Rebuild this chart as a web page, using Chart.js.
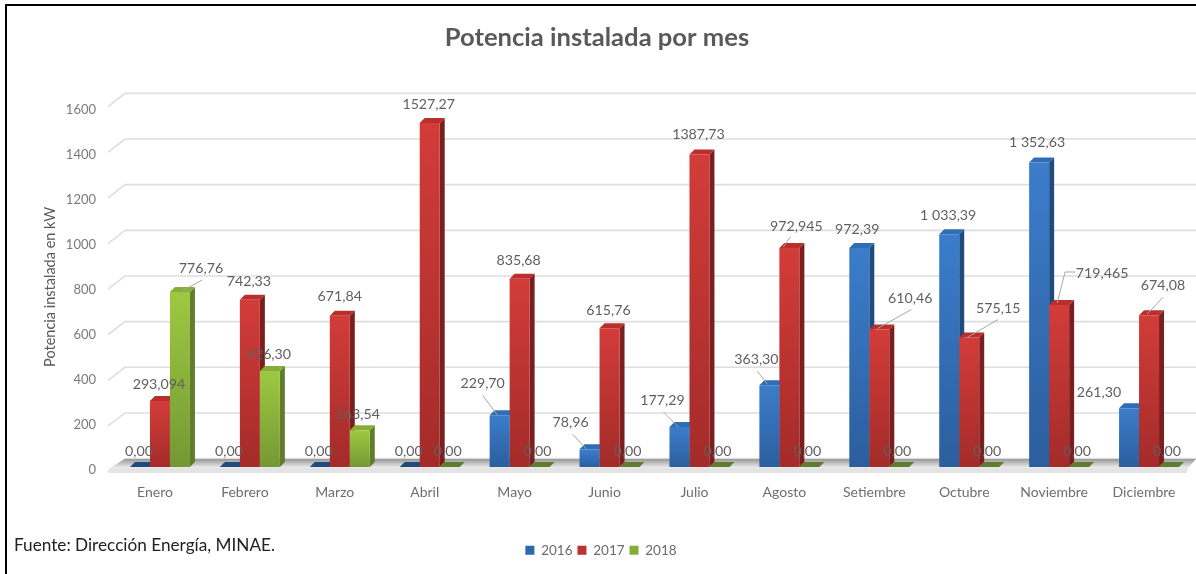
<!DOCTYPE html>
<html>
<head>
<meta charset="utf-8">
<title>Potencia instalada por mes</title>
<script src="https://cdn.jsdelivr.net/npm/chart.js@4/dist/chart.umd.min.js"></script>
<style>
  html, body { margin: 0; padding: 0; background: #fff; overflow: hidden; }
  #wrap { position: relative; width: 1196px; height: 574px; }
  #powerChart { display: block; filter: blur(0.4px); }
  #frame { position: absolute; left: 5px; top: 4px; right: 0; bottom: 0; border-left: 2px solid #000; border-top: 2px solid #000; pointer-events: none; }
  #source { position: absolute; left: 14px; top: 534px; font: 17.2px Lato, sans-serif; color: #222; }
</style>
</head>
<body>
<div id="wrap">
  <canvas id="powerChart" width="1196" height="574"></canvas>
  <div id="frame"></div>
  <div id="source">Fuente: Dirección Energía, MINAE.</div>
</div>
<script>
const months = ["Enero", "Febrero", "Marzo", "Abril", "Mayo", "Junio", "Julio", "Agosto", "Setiembre", "Octubre", "Noviembre", "Diciembre"];
const yTicks = [0, 200, 400, 600, 800, 1000, 1200, 1400, 1600];

const values2016 = [0, 0, 0, 0, 229.70, 78.96, 177.29, 363.30, 972.39, 1033.39, 1352.63, 261.30];
const values2017 = [293.094, 742.33, 671.84, 1527.27, 835.68, 615.76, 1387.73, 972.945, 610.46, 575.15, 719.465, 674.08];
const values2018 = [776.76, 426.30, 163.54, 0, 0, 0, 0, 0, 0, 0, 0, 0];

const labels2016 = ["0,00", "0,00", "0,00", "0,00", "229,70", "78,96", "177,29", "363,30", "972,39", "1 033,39", "1 352,63", "261,30"];
const labels2017 = ["293,094", "742,33", "671,84", "1527,27", "835,68", "615,76", "1387,73", "972,945", "610,46", "575,15", "719,465", "674,08"];
const labels2018 = ["776,76", "426,30", "163,54", "0,00", "0,00", "0,00", "0,00", "0,00", "0,00", "0,00", "0,00", "0,00"];

// where each value label sits, relative to the top centre of its bar
const offsets2016 = [[-1, -16], [-1, -16], [-1, -16], [-1, -16], [-17, -32], [-19, -27], [-17, -27], [-13, -26], [-2, -19], [-1, -19], [-2, -20], [-30, -16]];
const offsets2017 = [[-1, -17], [-1, -18], [0, -19], [-1, -19], [-1, -18], [-1, -18], [-1, -20], [7, -21], [31, -31], [29, -29], [43, -32], [14, -30]];
const offsets2018 = [[21, -24], [-1, -17], [-2, -16], [-2, -16], [-2, -16], [-2, -16], [-2, -16], [-2, -16], [-2, -16], [-2, -16], [-2, -16], [-2, -16]];

// leader lines: dataset, month, then points relative to the top centre of the bar
const leaders = [
  [2, 0, [[22, -12], [2, -1]]],
  [0, 4, [[-17, -20], [-2, 0]]],
  [0, 5, [[-17, -15], [-3, 0]]],
  [0, 6, [[-16, -15], [-1, 0]]],
  [0, 7, [[-12, -14], [-2, -1]]],
  [1, 7, [[1, -11], [-6, -1]]],
  [1, 8, [[32, -20], [-2, -1]]],
  [1, 9, [[29, -18], [-2, 0]]],
  [1, 10, [[16, -33], [6, -33], [-2, -2]]],
  [1, 11, [[14, -18], [-2, -1]]]
];

const allLabels = [labels2016, labels2017, labels2018];
const allOffsets = [offsets2016, offsets2017, offsets2018];

const frontTop = ["#3b7dcb", "#d23c39", "#9dc941"];
const frontBottom = ["#2b5e9d", "#a32b29", "#739833"];
const legendColors = ["#2f69ad", "#bb3330", "#86ac3a"];
const sideColors = ["#1f4b7e", "#7a1f1d", "#5f7d2c"];
const topColors = ["#2f6db5", "#b92f2c", "#87ad38"];
const depth = 5;

function barFill(i) {
  return (context) => {
    const chart = context.chart;
    if (context.type !== "data" || !chart.chartArea) return frontTop[i];
    const y = chart.scales.y.getPixelForValue(context.parsed.y);
    const g = chart.ctx.createLinearGradient(0, y, 0, chart.chartArea.bottom + 1);
    g.addColorStop(0, frontTop[i]);
    g.addColorStop(1, frontBottom[i]);
    return g;
  };
}

// back wall gridlines, floor and the side/top faces of the bars.
// Chart.js paints the front faces afterwards, last dataset first.
const wallPlugin = {
  id: "wall",
  afterLayout(chart) {
    // legend sits a little right of the centre in the original
    chart.legend.left += 4;
    chart.legend.right += 4;
  },
  beforeDatasetsDraw(chart) {
    const { ctx, scales, chartArea } = chart;
    const y = scales.y;
    const backX = 125, frontX = 108;
    ctx.save();
    ctx.strokeStyle = "#dedede";
    ctx.lineWidth = 1.6;
    y.ticks.forEach((t) => {
      const v = t.value;
      const back = y.getPixelForValue(v) - 8.4 - v * 0.0031;
      const front = y.getPixelForValue(v) + 4.6 - v * 0.0029;
      ctx.beginPath();
      ctx.moveTo(frontX, front);
      ctx.lineTo(backX, back);
      ctx.lineTo(1196, back);
      ctx.stroke();
    });
    // floor
    const base = chartArea.bottom;
    const g = ctx.createLinearGradient(0, base - 8, 0, base + 1);
    g.addColorStop(0, "#989898");
    g.addColorStop(1, "#efefef");
    ctx.fillStyle = g;
    ctx.beginPath();
    ctx.moveTo(backX, base - 8);
    ctx.lineTo(1196, base - 8);
    ctx.lineTo(1188, base + 1);
    ctx.lineTo(110, base + 1);
    ctx.closePath();
    ctx.fill();
    ctx.fillStyle = "#e4e4e4";
    ctx.beginPath();
    ctx.moveTo(110, base + 1);
    ctx.lineTo(1188, base + 1);
    ctx.lineTo(1187, base + 6);
    ctx.lineTo(108, base + 6);
    ctx.closePath();
    ctx.fill();

    for (let i = 0; i < 3; i++) {
      chart.getDatasetMeta(i).data.forEach((bar) => {
        const x1 = bar.x + bar.width / 2;
        const x0 = bar.x - bar.width / 2;
        ctx.fillStyle = sideColors[i];
        ctx.beginPath();
        ctx.moveTo(x1, bar.y);
        ctx.lineTo(x1 + depth, bar.y - depth);
        ctx.lineTo(x1 + depth, bar.base - depth);
        ctx.lineTo(x1, bar.base);
        ctx.closePath();
        ctx.fill();
        // zero bars only show a dark flat top
        ctx.fillStyle = bar.y === bar.base ? sideColors[i] : topColors[i];
        ctx.beginPath();
        ctx.moveTo(x0, bar.y);
        ctx.lineTo(x0 + depth, bar.y - depth);
        ctx.lineTo(x1 + depth, bar.y - depth);
        ctx.lineTo(x1, bar.y);
        ctx.closePath();
        ctx.fill();
      });
    }
    ctx.restore();
  },
  afterDatasetsDraw(chart) {
    const { ctx } = chart;
    ctx.save();
    ctx.strokeStyle = "#a6a6a6";
    ctx.lineWidth = 1;
    leaders.forEach(([d, m, pts]) => {
      const bar = chart.getDatasetMeta(d).data[m];
      ctx.beginPath();
      pts.forEach((p, n) => {
        if (n === 0) ctx.moveTo(bar.x + p[0], bar.y + p[1]);
        else ctx.lineTo(bar.x + p[0], bar.y + p[1]);
      });
      ctx.stroke();
    });
    ctx.font = "14.2px Lato, sans-serif";
    ctx.fillStyle = "#5f5f5f";
    ctx.textAlign = "center";
    ctx.textBaseline = "middle";
    allLabels.forEach((labels, d) => {
      const bars = chart.getDatasetMeta(d).data;
      labels.forEach((text, m) => {
        const off = allOffsets[d][m];
        ctx.fillText(text, bars[m].x + off[0], bars[m].y + off[1]);
      });
    });
    ctx.restore();
  }
};

const ctx = document.getElementById("powerChart").getContext("2d");

new Chart(ctx, {
  type: "bar",
  data: {
    labels: months,
    datasets: [
      { label: "2016", data: values2016, backgroundColor: barFill(0) },
      { label: "2017", data: values2017, backgroundColor: barFill(1) },
      { label: "2018", data: values2018, backgroundColor: barFill(2) }
    ]
  },
  options: {
    responsive: false,
    animation: false,
    categoryPercentage: 0.667,
    barPercentage: 1,
    layout: { padding: { left: 0, right: 2, top: 0, bottom: 7 } },
    plugins: {
      title: {
        display: true,
        text: "Potencia instalada por mes",
        color: "#595959",
        font: { family: "Lato, sans-serif", size: 25.6, weight: "bold" },
        padding: { top: 22, bottom: 54 }
      },
      legend: {
        position: "bottom",
        labels: {
          boxWidth: 9,
          boxHeight: 9,
          padding: 5,
          color: "#6b6b6b",
          font: { family: "Lato, sans-serif", size: 13.5 },
          generateLabels(chart) {
            const items = Chart.defaults.plugins.legend.labels.generateLabels(chart);
            items.forEach((item, i) => {
              item.fillStyle = legendColors[i];
              item.strokeStyle = legendColors[i];
              item.lineWidth = 0;
            });
            return items;
          }
        }
      },
      tooltip: { enabled: false }
    },
    scales: {
      x: {
        grid: { display: false },
        border: { display: false },
        ticks: {
          autoSkip: false,
          maxRotation: 0,
          padding: 9,
          labelOffset: -5,
          color: "#6e6e6e",
          font: { family: "Lato, sans-serif", size: 14 }
        },
        afterFit(scale) {
          const legendH = scale.chart.legend ? scale.chart.legend.height : 0;
          scale.height = 574 - 467 - 7 - legendH;
        }
      },
      y: {
        min: 0,
        max: 1600,
        grid: { display: false },
        border: { display: false },
        afterBuildTicks(scale) {
          scale.ticks = yTicks.map((v) => ({ value: v }));
        },
        ticks: {
          padding: 11,
          labelOffset: 3,
          color: "#7a7a7a",
          font: { family: "Lato, sans-serif", size: 13 },
          callback: (v) => String(v)
        },
        title: {
          display: true,
          text: "Potencia instalada en kW",
          color: "#595959",
          font: { family: "Lato, sans-serif", size: 14.5 },
          padding: { top: 42, bottom: 0 }
        },
        afterFit(scale) {
          scale.width = 115;
        }
      }
    }
  },
  plugins: [wallPlugin]
});
</script>
</body>
</html>
